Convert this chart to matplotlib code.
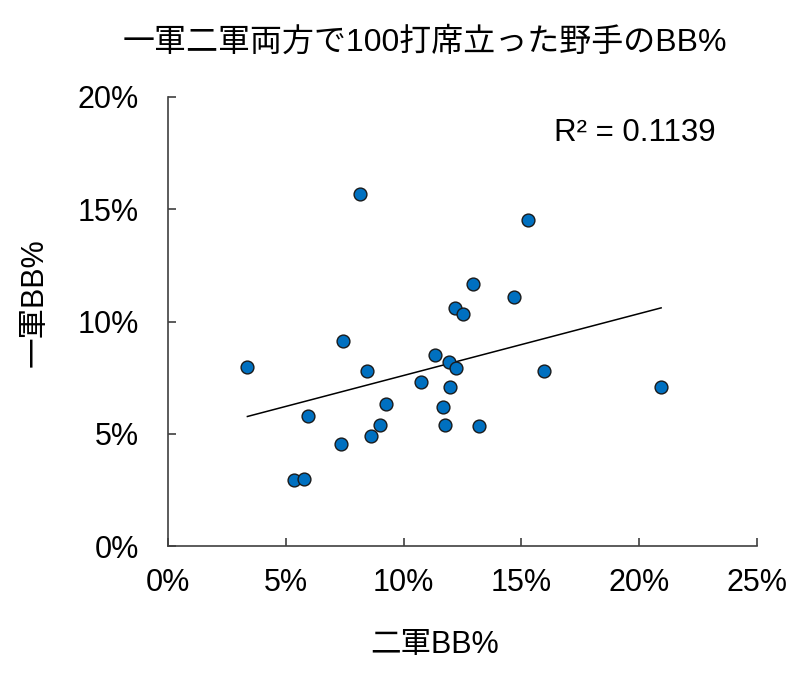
import matplotlib
matplotlib.use('Agg')
import matplotlib.pyplot as plt
from matplotlib.ticker import FuncFormatter
import numpy as np

plt.rcParams['font.family'] = ['Liberation Sans', 'Noto Sans CJK JP', 'DejaVu Sans']

# 二軍BB% (x) and 一軍BB% (y), in percent
farm_bb = [3.37, 8.15, 15.30, 12.94, 14.69, 12.19, 12.50, 7.42, 11.32, 11.93,
           12.23, 8.46, 15.94, 10.74, 11.99, 20.93, 9.26, 11.69, 5.94, 8.99,
           11.76, 13.19, 8.61, 7.33, 5.36, 5.76]
top_bb = [7.98, 15.67, 14.52, 11.69, 11.07, 10.60, 10.33, 9.12, 8.49, 8.18,
          7.92, 7.78, 7.81, 7.29, 7.09, 7.08, 6.33, 6.21, 5.78, 5.38,
          5.38, 5.36, 4.88, 4.56, 2.94, 3.00]

title = '一軍二軍両方で100打席立った野手のBB%'
xlabel = '二軍BB%'
ylabel = '一軍BB%'
r2_label = 'R² = 0.1139'
xticks = [0, 5, 10, 15, 20, 25]
yticks = [0, 5, 10, 15, 20]

x = np.array(farm_bb)
y = np.array(top_bb)

fig = plt.figure(figsize=(8.02, 6.8), dpi=100)
ax = fig.add_axes([168 / 802, 1 - 546 / 680, (757 - 168) / 802, (546 - 97) / 680])

# linear trendline over the data range
k, b = np.polyfit(x, y, 1)
xs = np.array([x.min(), x.max()])
ax.plot(xs, k * xs + b, color='black', lw=1.1, zorder=2)

ax.scatter(x, y, s=85, color='#0070C0', edgecolors='#1a1a1a', linewidths=1.0, zorder=3)

ax.set_xlim(0, 25)
ax.set_ylim(0, 20)
ax.set_xticks(xticks)
ax.set_yticks(yticks)
pct = FuncFormatter(lambda v, p: '%d%%' % v)
ax.xaxis.set_major_formatter(pct)
ax.yaxis.set_major_formatter(pct)

for s in ['top', 'right']:
    ax.spines[s].set_visible(False)
for s in ['left', 'bottom']:
    ax.spines[s].set_color('#404040')
    ax.spines[s].set_linewidth(1.2)
ax.tick_params(direction='in', length=6, width=1.2, color='#404040',
               labelsize=22, labelcolor='black')
ax.tick_params(axis='x', pad=16)
ax.tick_params(axis='y', pad=21)

ax.text(0.655, 0.92, r2_label, transform=ax.transAxes, fontsize=22.5,
        ha='left', va='center')

fig.text(425 / 802, 1 - 43 / 680, title, fontsize=23, ha='center', va='center')
fig.text(435 / 802, 1 - 645 / 680, xlabel, fontsize=22, ha='center', va='center')
fig.text(35 / 802, 1 - 303 / 680, ylabel, fontsize=22, ha='center', va='center',
         rotation=90)

fig.savefig('out.png', dpi=100)
